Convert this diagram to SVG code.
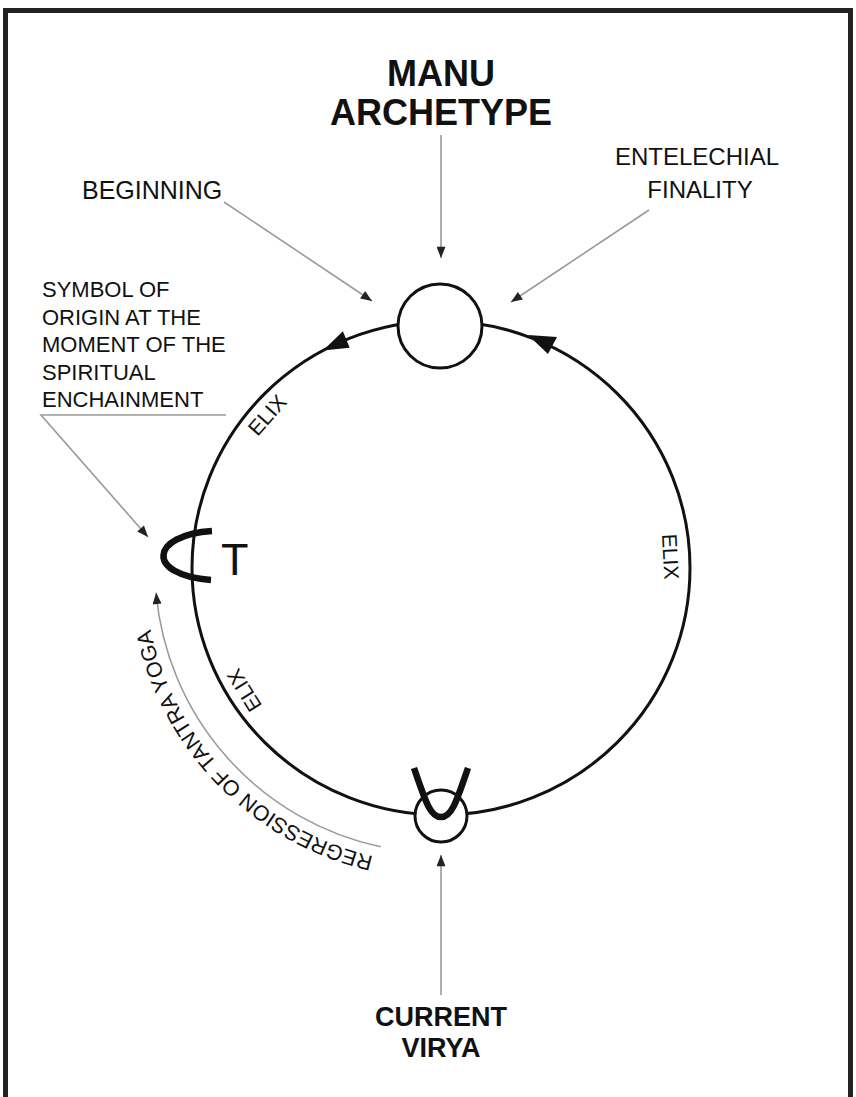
<svg xmlns="http://www.w3.org/2000/svg" width="856" height="1097" viewBox="0 0 856 1097">
<style>
.lbl{font-family:"Liberation Sans",Arial,sans-serif;fill:#111;}
.bold{font-weight:bold;}
.lead{stroke:#9a9a9a;stroke-width:1.6;fill:none;}
.ring{stroke:#111;stroke-width:3;fill:none;}
.node{stroke:#111;stroke-width:3;fill:#fff;}
.sym{stroke:#111;stroke-width:6.5;fill:none;stroke-linecap:butt;}
</style>
<defs>
<marker id="ah" viewBox="0 0 10 8" refX="10" refY="4" markerWidth="12" markerHeight="9" markerUnits="userSpaceOnUse" orient="auto">
<path d="M0,0 L10,4 L0,8 z" fill="#222"/>
</marker>
<path id="regPath" d="M 373.4 856.4 A 296 296 0 0 1 144.2 557.7"/>
</defs>
<rect x="0" y="0" width="856" height="1097" fill="#fff"/>
<rect x="5.5" y="10.5" width="845" height="1110" fill="none" stroke="#222" stroke-width="5"/>

<g id="connectors">
<ellipse id="elix-ring" class="ring" cx="441" cy="568" rx="249" ry="247"/>
<polygon points="323,350.5 342.9,331.2 349.7,347.8" fill="#111"/>
<polygon points="528,335 557,337 548,354" fill="#111"/>
<line class="lead" x1="441" y1="135" x2="441" y2="258" marker-end="url(#ah)"/>
<line class="lead" x1="224" y1="202" x2="372" y2="301" marker-end="url(#ah)"/>
<line class="lead" x1="649" y1="210" x2="511" y2="302" marker-end="url(#ah)"/>
<polyline class="lead" points="226,415 41,415 148,537" marker-end="url(#ah)"/>
<line class="lead" x1="441" y1="995" x2="441" y2="855" marker-end="url(#ah)"/>
<path class="lead" d="M 380.7 846.8 A 285 285 0 0 1 156.1 592.8" marker-end="url(#ah)"/>
</g>

<g id="manu-archetype">
<circle class="node" cx="440" cy="326" r="42"/>
<text class="lbl bold" x="441" y="86" font-size="36" text-anchor="middle">MANU</text>
<text class="lbl bold" x="441" y="125" font-size="36" text-anchor="middle">ARCHETYPE</text>
</g>

<g id="beginning">
<text class="lbl" x="82" y="199" font-size="25">BEGINNING</text>
</g>

<g id="entelechial-finality">
<text class="lbl" x="697" y="165" font-size="24" text-anchor="middle">ENTELECHIAL</text>
<text class="lbl" x="700" y="198" font-size="24" text-anchor="middle">FINALITY</text>
</g>

<g id="symbol-of-origin">
<text class="lbl" x="42" y="297" font-size="22">SYMBOL OF</text>
<text class="lbl" x="42" y="324.5" font-size="22">ORIGIN AT THE</text>
<text class="lbl" x="42" y="352" font-size="22">MOMENT OF THE</text>
<text class="lbl" x="42" y="379.5" font-size="22">SPIRITUAL</text>
<text class="lbl" x="42" y="407" font-size="22">ENCHAINMENT</text>
</g>

<g id="tantra-symbol">
<path class="sym" d="M 212 531 C 150 535, 145 575, 211 580"/>
<text class="lbl" x="221" y="575" font-size="45">T</text>
</g>

<g id="current-virya">
<circle class="node" cx="441" cy="816" r="26"/>
<path class="sym" d="M 414 768 C 425 800, 430 817, 441 817 C 452 817, 457 800, 468 768"/>
<text class="lbl bold" x="441" y="1026" font-size="27" text-anchor="middle">CURRENT</text>
<text class="lbl bold" x="441" y="1057" font-size="27" text-anchor="middle">VIRYA</text>
</g>

<g id="elix-labels">
<text class="lbl" font-size="21" text-anchor="middle" transform="translate(440 568) rotate(-138.5) translate(223.5 0) rotate(90)">ELIX</text>
<text class="lbl" font-size="21" text-anchor="middle" transform="translate(440 568) rotate(-2.85) translate(223.5 0) rotate(90)">ELIX</text>
<text class="lbl" font-size="21" text-anchor="middle" transform="translate(440 568) rotate(148) translate(223.5 0) rotate(90)">ELIX</text>
</g>

<g id="regression">
<text class="lbl" font-size="21.5"><textPath href="#regPath">REGRESSION OF TANTRA YOGA</textPath></text>
</g>
</svg>
